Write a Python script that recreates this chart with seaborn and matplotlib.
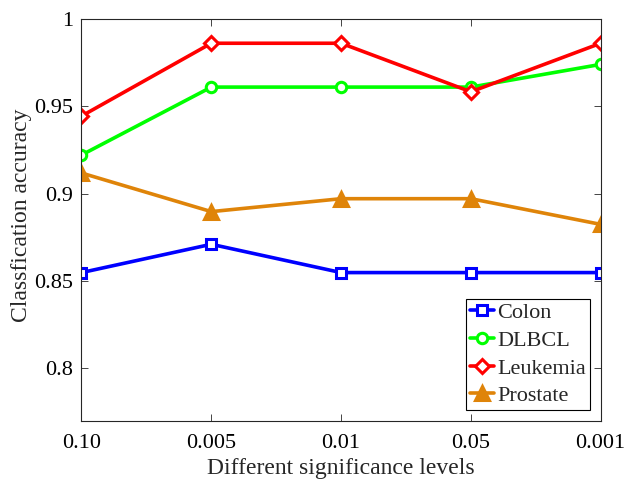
import matplotlib
matplotlib.use("Agg")
import matplotlib.pyplot as plt
import seaborn as sns
import pandas as pd

levels = ["0.10", "0.005", "0.01", "0.05", "0.001"]
colon = [0.8548, 0.8710, 0.8548, 0.8548, 0.8548]
dlbcl = [0.9221, 0.9610, 0.9610, 0.9610, 0.9740]
leukemia = [0.9444, 0.9861, 0.9861, 0.9583, 0.9861]
prostate = [0.9118, 0.8897, 0.8971, 0.8971, 0.8824]
names = ["Colon", "DLBCL", "Leukemia", "Prostate"]
series = [colon, dlbcl, leukemia, prostate]

rows = []
for n, vals in zip(names, series):
    for i, (lv, v) in enumerate(zip(levels, vals)):
        rows.append({"pos": i, "level": lv, "acc": v, "dataset": n})
df = pd.DataFrame(rows)

sns.set_style("ticks")
plt.rcParams["font.family"] = ["Liberation Serif", "DejaVu Serif"]

colors = {"Colon": "#0000FF", "DLBCL": "#00FF00", "Leukemia": "#FF0000", "Prostate": "#DF8409"}
markers = {"Colon": "s", "DLBCL": "o", "Leukemia": "D", "Prostate": "^"}

fig = plt.figure(figsize=(6.25, 4.84), dpi=100)
ax = fig.add_axes([0.1304, 0.1308, 0.8307, 0.830])

sns.lineplot(data=df, x="pos", y="acc", hue="dataset", style="dataset",
             palette=colors, markers=markers, dashes=False, sort=False,
             linewidth=2.6, markersize=7.5, ax=ax, legend=False)

for line, n in zip(ax.get_lines(), names):
    line.set_markeredgewidth(2.2)
    line.set_markeredgecolor(colors[n])
    if n == "Prostate":
        line.set_markerfacecolor(colors[n])
        line.set_markersize(9.5)
    else:
        line.set_markerfacecolor("white")
    if n == "Leukemia":
        line.set_markersize(7)
    line.set_label(n)

leg = ax.legend(loc="lower right", fontsize=16, frameon=True, fancybox=False,
                edgecolor="black", framealpha=1, handlelength=1.1,
                handletextpad=0.15, borderpad=0.15, labelspacing=0.32,
                borderaxespad=0.5)
leg.get_frame().set_linewidth(0.8)

ax.set_xlim(0, 4)
ax.set_ylim(0.77, 1.0)
ax.set_xticks(range(len(levels)))
ax.set_xticklabels(levels)
ax.set_yticks([0.8, 0.85, 0.9, 0.95, 1.0])
ax.set_yticklabels(["0.8", "0.85", "0.9", "0.95", "1"])
ax.tick_params(direction="in", top=True, right=True, labelsize=16, length=5, width=0.6,
               colors="#262626", labelcolor="black")
ax.tick_params(axis="x", pad=9.5)
ax.tick_params(axis="y", pad=6)
for s in ax.spines.values():
    s.set_linewidth(0.8)
    s.set_color("#262626")
ax.set_xlabel("Different significance levels", fontsize=17, labelpad=4)
ax.set_ylabel("Classfication accuracy", fontsize=17)
ax.yaxis.set_label_coords(-0.095, 0.512)

fig.savefig("out.png", dpi=100)
